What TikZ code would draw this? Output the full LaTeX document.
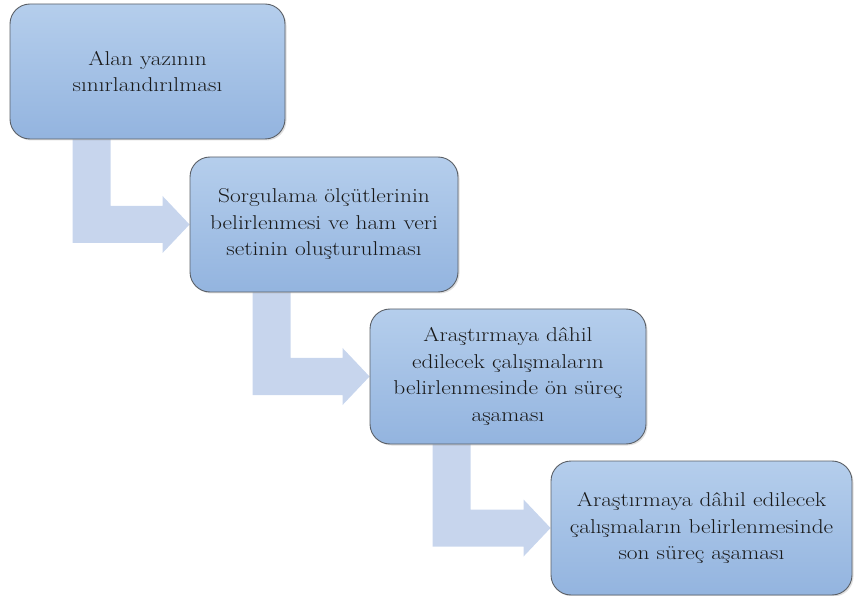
\documentclass[tikz,border=0pt]{standalone}
\usepackage{fontspec}
\setmainfont{Latin Modern Roman}[FakeStretch=1.17]
\usetikzlibrary{calc,shadows}
\definecolor{boxtop}{HTML}{B5CEEC}
\definecolor{boxbot}{HTML}{93B4DF}
\definecolor{boxline}{HTML}{5A5F66}
\definecolor{arrowfill}{HTML}{C7D5ED}
\pgfdeclarelayer{bg}
\pgfsetlayers{bg,main}
\tikzset{
  stepbox/.style={rectangle, rounded corners=20pt, draw=boxline, line width=0.9pt,
    top color=boxtop, bottom color=boxbot, align=center, inner sep=0pt,
    font=\fontsize{20}{26.5}\selectfont, text=black!90,
    drop shadow={opacity=0.25, shadow xshift=1.5pt, shadow yshift=-1.5pt}},
  bentarrow/.style={fill=arrowfill, draw=none}
}
\newcommand{\bentarr}[3]{% from node, to node, x offset from from.south west
  \path let \p1=($(#1.south west)+(#3,0)$), \p2=(#2.west) in
    [bentarrow] (\x1,\y1) -- (\x1+38pt,\y1) -- (\x1+38pt,\y2+18.5pt)
    -- (\x2-27pt,\y2+18.5pt) -- (\x2-27pt,\y2+28.5pt) -- (\x2,\y2)
    -- (\x2-27pt,\y2-28.5pt) -- (\x2-27pt,\y2-18.5pt) -- (\x1,\y2-18.5pt) -- cycle;}
\begin{document}
\begin{tikzpicture}[x=1pt,y=1pt]
\useasboundingbox (0,0) rectangle (855,-596);
\node[stepbox, minimum width=275pt, minimum height=135pt] (b1) at (147.5,-71.5)
  {Alan yazının\\sınırlandırılması};
\node[stepbox, minimum width=268pt, minimum height=135pt] (b2) at (324,-224.5)
  {Sorgulama ölçütlerinin\\belirlenmesi ve ham veri\\setinin oluşturulması};
\node[stepbox, minimum width=276pt, minimum height=135pt] (b3) at (508,-376.5)
  {Araştırmaya dâhil\\edilecek çalışmaların\\belirlenmesinde ön süreç\\aşaması};
\node[stepbox, minimum width=301pt, minimum height=134pt] (b4) at (701.5,-528)
  {Araştırmaya dâhil edilecek\\çalışmaların belirlenmesinde\\son süreç aşaması};
\begin{pgfonlayer}{bg}
\bentarr{b1}{b2}{63pt}
\bentarr{b2}{b3}{63pt}
\bentarr{b3}{b4}{63pt}
\end{pgfonlayer}
\end{tikzpicture}
\end{document}
